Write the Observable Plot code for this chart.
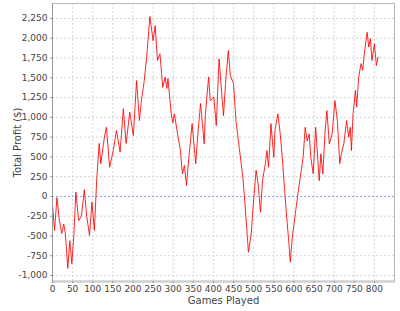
<!DOCTYPE html>
<html>
<head>
<meta charset="utf-8">
<script src="https://cdn.jsdelivr.net/npm/d3@7"></script>
<script src="https://cdn.jsdelivr.net/npm/@observablehq/plot@0.6"></script>
<style>
  html, body { margin: 0; padding: 0; background: #fff; }
  svg { display: block; }
</style>
</head>
<body>
<div id="chart"></div>
<script>
const games = [0,5,11,17,23,28,32,38,43,48,53,58,65,72,79,85,92,98,104,110,116,120,129,134,142,151,159,168,176,183,192,201,209,216,221,228,234,242,250,255,261,267,274,280,284,287,295,299,303,312,317,323,328,333,339,347,356,362,368,377,380,388,392,401,407,414,422,425,430,437,442,450,456,464,473,479,487,494,497,506,511,517,522,529,533,537,543,550,553,560,566,571,580,587,591,596,604,610,617,623,628,633,638,642,648,654,663,667,672,677,682,688,695,702,708,714,718,724,731,736,740,743,747,753,756,761,767,771,775,782,786,790,794,800,805,809];
const profit = [-100,-430,-15,-300,-470,-350,-470,-910,-560,-850,-500,55,-305,-250,85,-250,-495,-70,-430,225,670,415,750,875,370,580,835,560,1110,670,1065,770,1465,960,1210,1465,1760,2275,1970,2160,1720,1805,1380,1510,1365,1490,1045,930,1045,750,620,285,390,140,495,920,415,835,1175,665,1045,1510,1210,1255,895,1740,1210,1020,1425,1845,1530,1425,960,620,245,-135,-705,-475,-230,330,160,-200,200,415,580,370,920,495,835,1045,795,495,-135,-560,-830,-515,-200,35,285,495,875,700,790,495,285,875,200,540,285,790,1085,665,790,1210,960,415,540,665,960,750,875,580,1045,1340,1130,1510,1680,1595,1805,2075,1890,1995,1720,1930,1655,1760];
const xTicks = [0,50,100,150,200,250,300,350,400,450,500,550,600,650,700,750,800];
const yTicks = [-1000,-750,-500,-250,0,250,500,750,1000,1250,1500,1750,2000,2250];
const xLabel = "Games Played";
const yLabel = "Total Profit ($)";

const data = games.map((g, i) => ({game: g, profit: profit[i]}));
const fmt = d3.formatLocale({decimal: ".", thousands: ",", grouping: [3], currency: ["$", ""], minus: "-"}).format(",");
const yDomain = [-1076, 2440];
const xDomain = [0, 850];

const chart = Plot.plot({
  width: 400,
  height: 311,
  marginLeft: 52,
  marginRight: 6,
  marginTop: 3,
  marginBottom: 30,
  style: {fontFamily: "'DejaVu Sans', sans-serif", background: "#fff", color: "#444"},
  x: {domain: xDomain},
  y: {domain: yDomain},
  marks: [
    Plot.gridX(xTicks, {stroke: "#d4d4d4", strokeOpacity: 1, strokeDasharray: "2,2"}),
    Plot.gridY(yTicks, {stroke: "#d4d4d4", strokeOpacity: 1, strokeDasharray: "2,2"}),
    Plot.ruleY([0], {stroke: "#9a9aff", strokeWidth: 1, strokeDasharray: "2,2"}),
    Plot.line(data, {x: "game", y: "profit", stroke: "#ff0000", strokeWidth: 1, strokeOpacity: 0.85}),
    Plot.frame({stroke: "#b8b8b8"}),
    Plot.ruleY([yDomain[0]], {stroke: "#cfcfcf", strokeWidth: 2.5}),
    Plot.ruleX([xDomain[0]], {stroke: "#999"}),
    Plot.axisY(yTicks, {tickSize: 2, tickPadding: 3, fontSize: 9, tickFormat: fmt, label: null, stroke: "#999", fill: "#444"}),
    Plot.axisX(xTicks, {tickSize: 2, tickPadding: 2, fontSize: 9, tickFormat: fmt, label: null, stroke: "#999", fill: "#444"}),
    Plot.text([yLabel], {text: d => d, frameAnchor: "left", dx: -35, rotate: -90, textAnchor: "middle", lineAnchor: "middle", fontSize: 10, fill: "#444"}),
    Plot.text([xLabel], {text: d => d, frameAnchor: "bottom", dy: 19, textAnchor: "middle", lineAnchor: "middle", fontSize: 10, fill: "#444"})
  ]
});
document.getElementById("chart").appendChild(chart);
</script>
</body>
</html>
